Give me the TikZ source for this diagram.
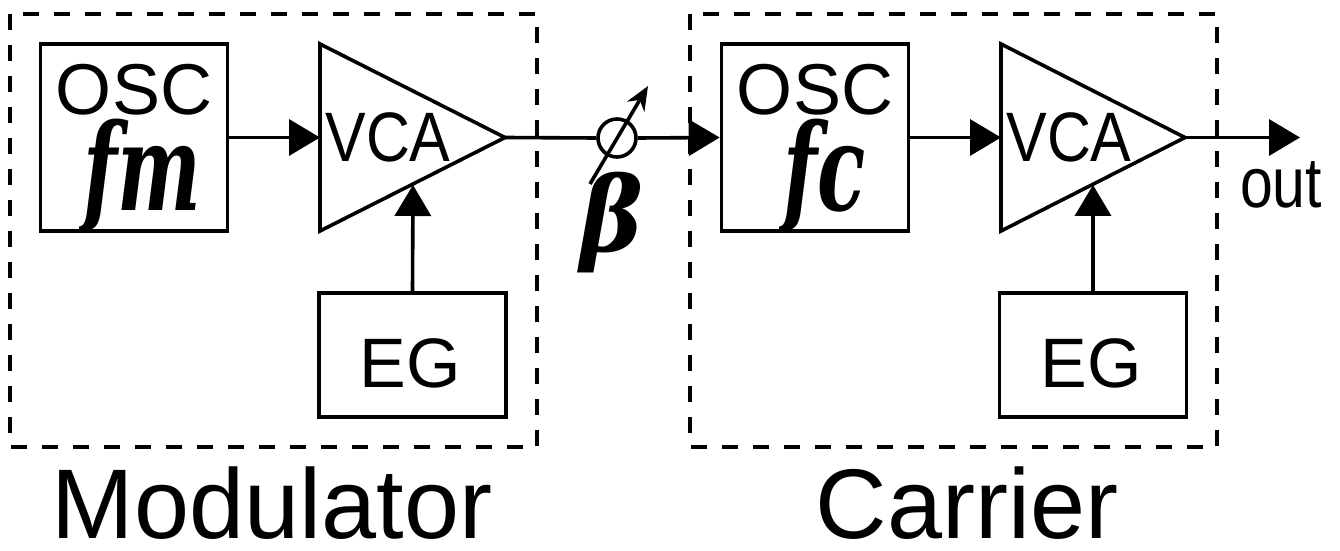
\documentclass[tikz,border=0pt]{standalone}
\usepackage{fontspec}
\setmainfont{Liberation Sans}
\newfontfamily\fmfont{DejaVu Serif}
\usetikzlibrary{arrows.meta}
\tikzset{
  blk/.style={draw, line width=1.8pt, minimum width=93.5pt, minimum height=93.5pt, inner sep=0pt},
  egblk/.style={draw, line width=1.8pt, minimum width=93.5pt, minimum height=62pt, inner sep=0pt},
  grp/.style={draw, line width=1.8pt, dash pattern=on 8pt off 7.5pt},
  amp/.style={draw, line width=1.8pt},
  sig/.style={line width=1.8pt, -{Triangle[length=15.5pt,width=18pt]}},
  lbl/.style={font=\fontsize{35}{40}\selectfont, inner sep=0pt, anchor=base},
  frq/.style={font=\fmfont\bfseries\itshape\fontsize{43}{48}\selectfont, inner sep=0pt, anchor=base},
  grplbl/.style={font=\fontsize{49.5}{54}\selectfont, inner sep=0pt, anchor=base}
}
\begin{document}
\begin{tikzpicture}[x=0.5pt, y=-0.5pt]
  \useasboundingbox (0,0) rectangle (1340,551);

  \draw[grp] (10,14) rectangle (537,447);
  \node[blk] (oscM) at (134,137.5) {};
  \node[lbl, font=\fontsize{36}{40}\selectfont] (oscMtxt) at (134,115) {OSC};
  \node[frq] (fmTxt) at (142,211) {\scalebox{0.92}[1.4]{fm}};
  \draw[amp] (320,44) -- (505,137.5) -- (320,231) -- cycle;
  \coordinate (vcaMin) at (320,137.5);
  \coordinate (vcaMout) at (505,137.5);
  \coordinate (vcaMcv) at (413,185);
  \node[lbl] (vcaMtxt) at (388,162) {\scalebox{0.87}[1]{VCA}};
  \node[egblk] (egM) at (412.5,355) {};
  \node[lbl] (egMtxt) at (410,387) {EG};
  \node[grplbl] (modTxt) at (272,538) {Modulator};

  \draw[grp] (690,14) rectangle (1217,447);
  \node[blk] (oscC) at (815,137.5) {};
  \node[lbl, font=\fontsize{36}{40}\selectfont] (oscCtxt) at (815,115) {OSC};
  \node[frq] (fcTxt) at (825,211) {\scalebox{0.92}[1.4]{fc}};
  \draw[amp] (1001,44) -- (1185,137.5) -- (1001,231) -- cycle;
  \coordinate (vcaCin) at (1001,137.5);
  \coordinate (vcaCout) at (1185,137.5);
  \coordinate (vcaCcv) at (1093,185);
  \node[lbl] (vcaCtxt) at (1069,162) {\scalebox{0.87}[1]{VCA}};
  \node[egblk] (egC) at (1093,355) {};
  \node[lbl] (egCtxt) at (1091,387) {EG};
  \node[grplbl] (carTxt) at (967,538) {Carrier};

  \draw[sig] (oscM.east) -- (vcaMin);
  \draw[sig] (egM.north) -- (vcaMcv);
  \node[draw, circle, line width=1.8pt, minimum size=19pt, inner sep=0pt] (gain) at (617,138) {};
  \draw[line width=1.8pt] (vcaMout) -- (gain.west);
  \draw[sig] (gain.east) -- (oscC.west);
  \coordinate (knobA) at (590,184);
  \coordinate (knobB) at (648,86);
  \draw[line width=1.8pt, -{Stealth[length=12pt, width=10pt]}] (knobA) -- (knobB);
  \node[frq] (betaTxt) at (612,251) {\scalebox{1.1}[1.2]{β}};

  \draw[sig] (oscC.east) -- (vcaCin);
  \draw[sig] (egC.north) -- (vcaCcv);
  \coordinate (outEnd) at (1300,137.5);
  \draw[sig] (vcaCout) -- (outEnd);
  \node[lbl, font=\fontsize{35.5}{40}\selectfont] (outTxt) at (1281,207) {\scalebox{0.83}[1]{out}};
\end{tikzpicture}
\end{document}
